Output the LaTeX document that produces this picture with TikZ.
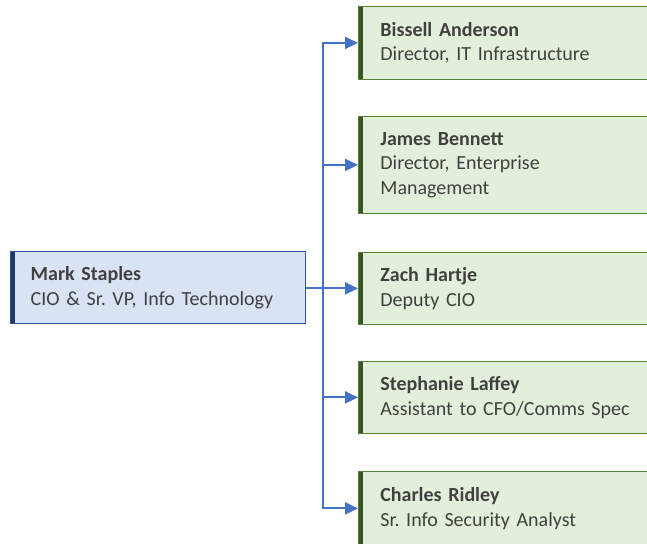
\documentclass[tikz,border=0pt]{standalone}
\usepackage{fontspec}
\setmainfont{Carlito}
\usetikzlibrary{arrows.meta,positioning}
\definecolor{rootFill}{HTML}{DAE3F3}
\definecolor{rootLine}{HTML}{2F5597}
\definecolor{rootBar}{HTML}{1F3864}
\definecolor{childFill}{HTML}{E2EFDA}
\definecolor{childLine}{HTML}{548235}
\definecolor{childBar}{HTML}{375623}
\definecolor{linkBlue}{HTML}{4472C4}
\definecolor{textGray}{HTML}{404040}
\frenchspacing

\begin{document}
\begin{tikzpicture}[x=1pt,y=-1pt]
    \tikzstyle{every node} = [font=\fontsize{20}{24.5}\selectfont, text=textGray]
    \tikzstyle{box} = [draw, rectangle, line width=0.8pt, align=left, anchor=north west, inner ysep=4pt]
    \tikzstyle{rootBox} = [box, draw=rootLine, line width=1.4pt, fill=rootFill, inner xsep=20pt, text width=255pt, minimum height=72pt,
        path picture={\fill[rootBar] (path picture bounding box.north west) rectangle ([xshift=4pt]path picture bounding box.south west);}]
    \tikzstyle{childBox} = [box, draw=childLine, fill=childFill, inner xsep=22pt, text width=262pt,
        path picture={\fill[childBar] (path picture bounding box.north west) rectangle ([xshift=5pt]path picture bounding box.south west);}]
    \tikzstyle{link} = [draw=linkBlue, line width=2pt, -{Triangle[length=13pt,width=12pt]}]
    \useasboundingbox (0,0) rectangle (647,543);

    % place nodes
    \node[rootBox] (markStaples) at (10,251) {\textbf{Mark Staples}\\CIO \& Sr. VP, Info Technology};

    \node[childBox, minimum height=73pt] (bissellAnderson) at (358,6) {\textbf{Bissell Anderson}\\Director, IT Infrastructure};
    \node[childBox, minimum height=97pt] (jamesBennett) at (358,116) {\textbf{James Bennett}\\Director, Enterprise\\Management};
    \node[childBox, minimum height=72pt] (zachHartje) at (358,252) {\textbf{Zach Hartje}\\Deputy CIO};
    \node[childBox, minimum height=72pt] (stephanieLaffey) at (358,361) {\textbf{Stephanie Laffey}\\Assistant to CFO/Comms Spec};
    \node[childBox, minimum height=74pt] (charlesRidley) at (358,471) {\textbf{Charles Ridley}\\Sr. Info Security Analyst};

    % Connections
    \coordinate (branch) at ([xshift=17pt]markStaples.east);
    \foreach \n in {bissellAnderson,jamesBennett,zachHartje,stephanieLaffey,charlesRidley}
      \draw[link] (markStaples.east) -- (branch) |- (\n.west);
\end{tikzpicture}
\end{document}
